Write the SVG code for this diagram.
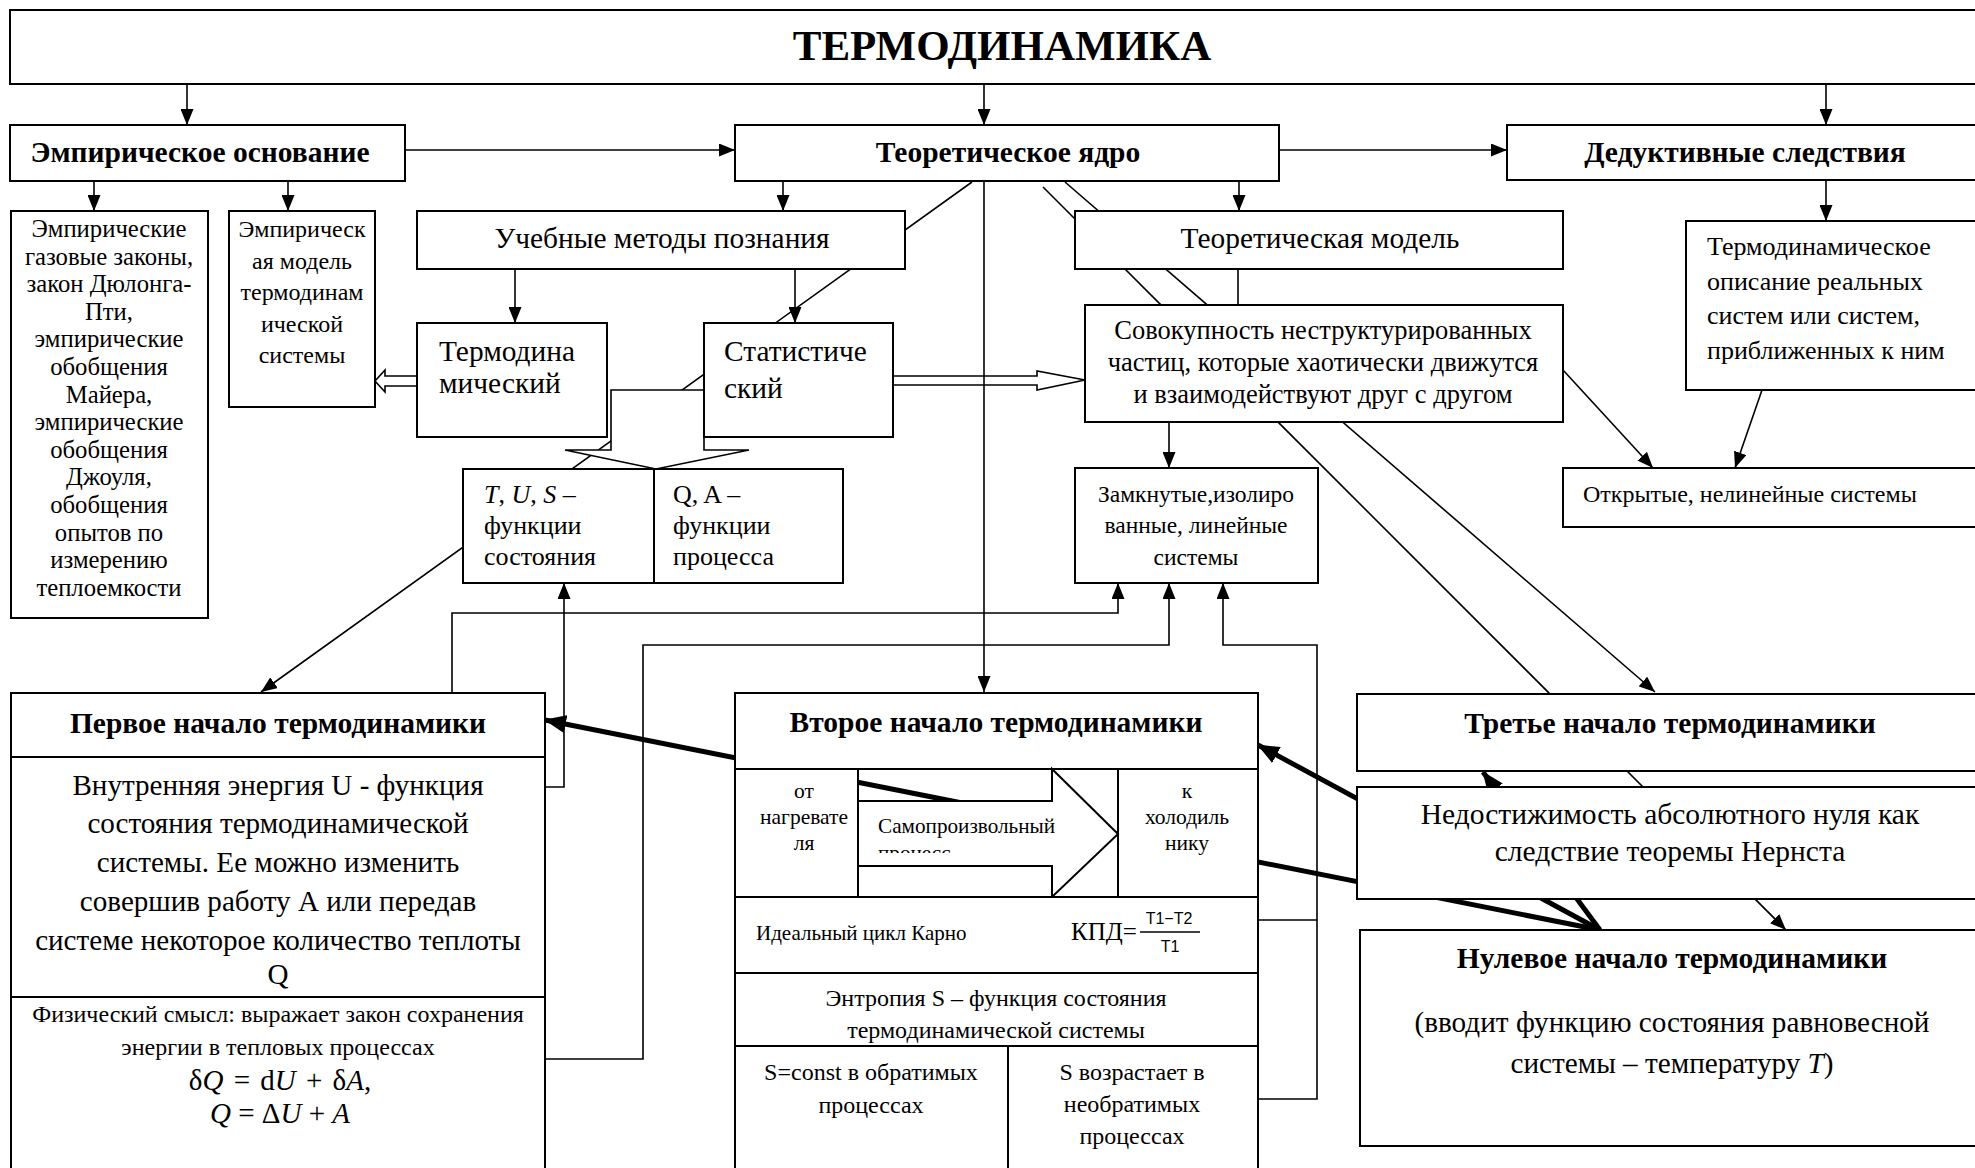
<svg xmlns="http://www.w3.org/2000/svg" width="1975" height="1168" viewBox="0 0 1975 1168" font-family="'Liberation Serif','Times New Roman',serif">
<style>
.b{fill:#fff;stroke:#000;stroke-width:2}
.n{fill:none;stroke:#000;stroke-width:2}
.c{fill:none;stroke:#000;stroke-width:1.6}
.k{fill:none;stroke:#000;stroke-width:5}
.w{fill:#fff;stroke:#000;stroke-width:1.6}
text{font-family:"Liberation Serif","Times New Roman",serif;fill:#000}
.h{font-weight:bold;font-size:29.5px;text-anchor:middle}
.m{text-anchor:middle}
.i{font-style:italic}
.s{font-family:"Liberation Sans",Arial,sans-serif}
</style>
<defs>
<marker id="a" markerUnits="userSpaceOnUse" markerWidth="16" markerHeight="13" refX="16" refY="6.5" orient="auto"><path d="M0,0L16,6.5L0,13z"/></marker>
<marker id="t" markerUnits="userSpaceOnUse" markerWidth="22" markerHeight="18" refX="21" refY="9" orient="auto"><path d="M0,0L22,9L0,18z"/></marker>
<clipPath id="cp"><rect x="860" y="803" width="240" height="50"/></clipPath>
</defs>
<g id="connectors">
<path class="c" d="M187,84V125" marker-end="url(#a)"/>
<path class="c" d="M984,84V125" marker-end="url(#a)"/>
<path class="c" d="M1826,84V125" marker-end="url(#a)"/>
<path class="c" d="M405,150H735" marker-end="url(#a)"/>
<path class="c" d="M1279,150H1507" marker-end="url(#a)"/>
<path class="c" d="M94,181V211" marker-end="url(#a)"/>
<path class="c" d="M288,181V211" marker-end="url(#a)"/>
<path class="c" d="M783,181V211" marker-end="url(#a)"/>
<path class="c" d="M1239,181V211" marker-end="url(#a)"/>
<path class="c" d="M1826,181V221" marker-end="url(#a)"/>
<path class="c" d="M515,269V323" marker-end="url(#a)"/>
<path class="c" d="M795,269V323" marker-end="url(#a)"/>
<path class="c" d="M972,182L261,692" marker-end="url(#a)"/>
<path class="c" d="M1043,187L1786,930" marker-end="url(#a)"/>
<path class="c" d="M1065,182L1655,692" marker-end="url(#a)"/>
<path class="c" d="M1238,269V305"/>
<path class="c" d="M1169,422V468" marker-end="url(#a)"/>
<path class="c" d="M1563,370L1653,468" marker-end="url(#a)"/>
<path class="c" d="M1762,390L1735,468" marker-end="url(#a)"/>
<path class="c" d="M452,693V613H1118V583" marker-end="url(#a)"/>
<path class="c" d="M545,1059H643V645H1169V583" marker-end="url(#a)"/>
<path class="c" d="M1258,920H1317"/>
<path class="c" d="M1258,1099H1317V645H1223V583" marker-end="url(#a)"/>
<path class="c" d="M545,787H564V583" marker-end="url(#a)"/>
<polygon class="w" points="704,390 611,390 611,450 565,450 656,469 749,450 704,450"/>
<polygon class="w" points="417,376 385,376 385,370 375,381 385,392 385,386 417,386"/>
<polygon class="w" points="893,376 1037,376 1037,371 1085,380 1037,390 1037,385 893,385"/>
<path class="c" d="M984,181V692" marker-end="url(#a)"/>
<path class="k" d="M1600,930L545,720" marker-end="url(#t)"/>
<path class="k" d="M1600,930L1258,745" marker-end="url(#t)"/>
<path class="k" d="M1600,930L1483,772" marker-end="url(#t)"/>
</g>
<g id="title"><rect class="b" x="10" y="10" width="1990" height="74"/><text x="1002" y="60" font-size="43" font-weight="bold" text-anchor="middle">ТЕРМОДИНАМИКА</text></g>
<g id="emp"><rect class="b" x="10" y="125" width="395" height="56"/><text class="h" x="200" y="162">Эмпирическое основание</text></g>
<g id="core"><rect class="b" x="735" y="125" width="544" height="56"/><text class="h" x="1008" y="162">Теоретическое ядро</text></g>
<g id="ded"><rect class="b" x="1507" y="125" width="500" height="55"/><text class="h" x="1745" y="162">Дедуктивные следствия</text></g>
<g id="empLaws"><rect class="b" x="11" y="211" width="197" height="407"/>
<text class="m" font-size="24.7"><tspan x="109" y="237">Эмпирические</tspan><tspan x="109" y="264.6">газовые законы,</tspan><tspan x="109" y="292.2">закон Дюлонга-</tspan><tspan x="109" y="319.8">Пти,</tspan><tspan x="109" y="347.4">эмпирические</tspan><tspan x="109" y="375">обобщения</tspan><tspan x="109" y="402.6">Майера,</tspan><tspan x="109" y="430.2">эмпирические</tspan><tspan x="109" y="457.8">обобщения</tspan><tspan x="109" y="485.4">Джоуля,</tspan><tspan x="109" y="513">обобщения</tspan><tspan x="109" y="540.6">опытов по</tspan><tspan x="109" y="568.2">измерению</tspan><tspan x="109" y="595.8">теплоемкости</tspan></text></g>
<g id="empModel"><rect class="b" x="229" y="211" width="146" height="196"/>
<text class="m" font-size="24"><tspan x="302" y="237">Эмпирическ</tspan><tspan x="302" y="268.5">ая модель</tspan><tspan x="302" y="300">термодинам</tspan><tspan x="302" y="331.5">ической</tspan><tspan x="302" y="363">системы</tspan></text></g>
<g id="ucheb"><rect class="b" x="417" y="211" width="488" height="58"/><text class="m" x="662" y="248" font-size="29.4">Учебные методы познания</text></g>
<g id="teorModel"><rect class="b" x="1075" y="211" width="488" height="58"/><text class="m" x="1320" y="248" font-size="29.4">Теоретическая модель</text></g>
<g id="termDesc"><rect class="b" x="1686" y="221" width="320" height="169"/>
<text font-size="26"><tspan x="1707" y="255">Термодинамическое</tspan><tspan x="1707" y="289.5">описание реальных</tspan><tspan x="1707" y="324">систем или систем,</tspan><tspan x="1707" y="358.5">приближенных к ним</tspan></text></g>
<g id="termodin"><rect class="b" x="417" y="323" width="190" height="114"/>
<text font-size="29.4"><tspan x="439" y="361">Термодина</tspan><tspan x="439" y="393">мический</tspan></text></g>
<g id="stat"><rect class="b" x="704" y="323" width="189" height="114"/>
<text font-size="29.4"><tspan x="724" y="361">Статистиче</tspan><tspan x="724" y="398">ский</tspan></text></g>
<g id="sovok"><rect class="b" x="1085" y="305" width="478" height="117"/>
<text class="m" font-size="26.5"><tspan x="1323" y="339">Совокупность неструктурированных</tspan><tspan x="1323" y="371">частиц, которые хаотически движутся</tspan><tspan x="1323" y="403">и взаимодействуют друг с другом</tspan></text></g>
<g id="tus"><rect class="b" x="463" y="469" width="380" height="114"/><path class="n" d="M654,469V583"/>
<text font-size="26"><tspan x="484" y="503"><tspan class="i">T</tspan>, <tspan class="i">U</tspan>, <tspan class="i">S</tspan> –</tspan><tspan x="484" y="534">функции</tspan><tspan x="484" y="565">состояния</tspan></text>
<text font-size="26"><tspan x="673" y="503">Q, A –</tspan><tspan x="673" y="534">функции</tspan><tspan x="673" y="565">процесса</tspan></text></g>
<g id="zamk"><rect class="b" x="1075" y="468" width="243" height="115"/>
<text class="m" font-size="23.5"><tspan x="1196" y="502">Замкнутые,изолиро</tspan><tspan x="1196" y="533">ванные, линейные</tspan><tspan x="1196" y="565">системы</tspan></text></g>
<g id="otkr"><rect class="b" x="1563" y="468" width="450" height="59"/><text x="1583" y="502" font-size="24">Открытые, нелинейные системы</text></g>
<g id="first"><rect class="b" x="11" y="693" width="534" height="500"/><path class="n" d="M11,757H545M11,997H545"/>
<text class="h" x="278" y="733">Первое начало термодинамики</text>
<text class="m" font-size="29.1"><tspan x="278" y="795">Внутренняя энергия U - функция</tspan><tspan x="278" y="833">состояния термодинамической</tspan><tspan x="278" y="872">системы. Ее можно изменить</tspan><tspan x="278" y="911">совершив работу А или передав</tspan><tspan x="278" y="950">системе некоторое количество теплоты</tspan><tspan x="278" y="984">Q</tspan></text>
<text class="m" font-size="24"><tspan x="278" y="1022">Физический смысл: выражает закон сохранения</tspan><tspan x="278" y="1055">энергии в тепловых процессах</tspan></text>
<text class="m" font-size="29"><tspan x="280" y="1090" word-spacing="3">δ<tspan class="i">Q</tspan> = d<tspan class="i">U</tspan> + δ<tspan class="i">A</tspan>,</tspan><tspan x="280" y="1123"><tspan class="i">Q</tspan> = Δ<tspan class="i">U</tspan> + <tspan class="i">A</tspan></tspan></text></g>
<g id="second">
<rect class="b" x="735" y="693" width="523" height="76"/>
<rect class="b" x="735" y="769" width="123" height="128"/>
<rect class="b" x="1118" y="769" width="140" height="128"/>
<polygon class="b" points="858,801 1052,801 1052,769 1118,834 1052,897 1052,866 858,866"/>
<rect class="b" x="735" y="897" width="523" height="76"/>
<rect class="b" x="735" y="973" width="523" height="73"/>
<rect class="b" x="735" y="1046" width="523" height="150"/>
<path class="n" d="M735,693V1190M1258,693V1190M735,769H1258M735,897H1258M1008,1046V1190"/>
<text class="h" x="996" y="732">Второе начало термодинамики</text>
<text class="m" font-size="21.5"><tspan x="804" y="798">от</tspan><tspan x="804" y="824">нагревате</tspan><tspan x="804" y="850">ля</tspan></text>
<text class="m" font-size="21.5"><tspan x="1187" y="798">к</tspan><tspan x="1187" y="824">холодиль</tspan><tspan x="1187" y="850">нику</tspan></text>
<text font-size="21.2" clip-path="url(#cp)"><tspan x="878" y="833">Самопроизвольный</tspan><tspan x="878" y="860">процесс</tspan></text>
<text x="756" y="940" font-size="21">Идеальный цикл Карно</text>
<text x="1071" y="940" font-size="25">КПД=</text>
<text class="s" x="1169" y="924" font-size="16" text-anchor="middle">T1−T2</text>
<path d="M1140,932H1200" stroke="#000" stroke-width="1.5"/>
<text class="s" x="1170" y="952" font-size="16" text-anchor="middle">T1</text>
<text class="m" font-size="24"><tspan x="996" y="1006">Энтропия  S – функция состояния</tspan><tspan x="996" y="1038">термодинамической системы</tspan></text>
<text class="m" font-size="24"><tspan x="871" y="1080">S=const в обратимых</tspan><tspan x="871" y="1113">процессах</tspan></text>
<text class="m" font-size="24"><tspan x="1132" y="1080">S возрастает в</tspan><tspan x="1132" y="1112">необратимых</tspan><tspan x="1132" y="1144">процессах</tspan></text>
</g>
<g id="third"><rect class="b" x="1357" y="694" width="650" height="77"/><text class="h" x="1670" y="733">Третье начало термодинамики</text></g>
<g id="nedost"><rect class="b" x="1357" y="787" width="650" height="112"/>
<text class="m" font-size="29.5"><tspan x="1670" y="824">Недостижимость абсолютного нуля как</tspan><tspan x="1670" y="861">следствие теоремы Нернста</tspan></text></g>
<g id="zero"><rect class="b" x="1360" y="930" width="650" height="216"/>
<text class="h" x="1672" y="968">Нулевое начало термодинамики</text>
<text class="m" font-size="29.2"><tspan x="1672" y="1032">(вводит функцию состояния равновесной</tspan><tspan x="1672" y="1073">системы – температуру <tspan class="i">T</tspan>)</tspan></text></g>
</svg>
